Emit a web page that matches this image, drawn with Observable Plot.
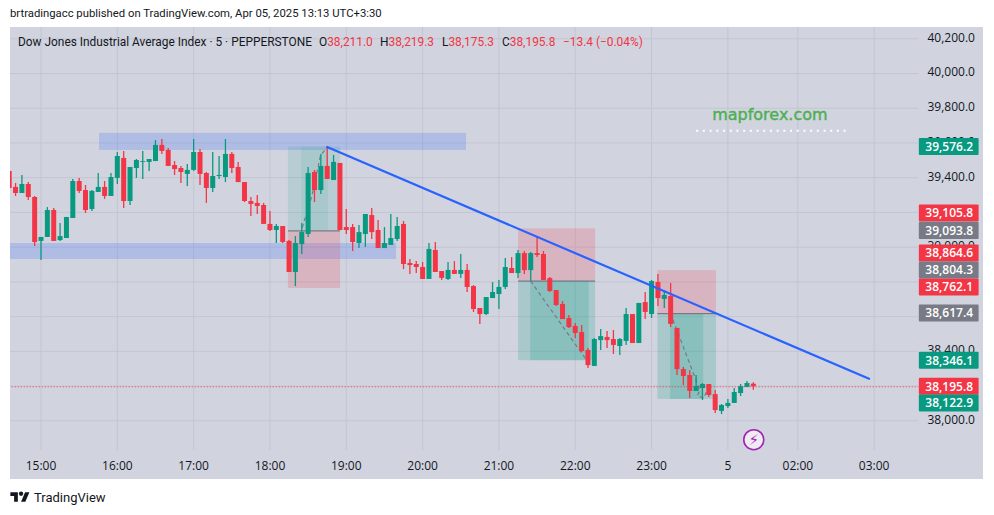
<!DOCTYPE html>
<html>
<head>
<meta charset="utf-8">
<script src="https://cdn.jsdelivr.net/npm/d3@7"></script>
<script src="https://cdn.jsdelivr.net/npm/@observablehq/plot@0.6"></script>
<style>
html,body{margin:0;padding:0;background:#fff;overflow:hidden;width:994px;height:515px}
body{font-family:Roboto,sans-serif;color:#131722;position:relative}
#head{position:absolute;left:10px;top:6px;font-size:11.3px;line-height:16px;white-space:nowrap}
#chart{position:absolute;left:10px;top:27px}
.lg{position:absolute;top:34px;font-size:11.9px;line-height:16px;white-space:nowrap}
.r{color:#f23645}
#foot{position:absolute;left:10px;top:489px;display:flex;align-items:center;gap:4px;font-size:13px;line-height:17px;color:#131722}
</style>
</head>
<body>
<div id="head">brtradingacc published on TradingView.com, Apr 05, 2025 13:13 UTC+3:30</div>
<div id="chart"></div>
<div class="lg" style="left:18px">Dow Jones Industrial Average Index · 5 · PEPPERSTONE</div>
<div class="lg" style="left:319px">O<span class="r">38,211.0</span></div>
<div class="lg" style="left:380px">H<span class="r">38,219.3</span></div>
<div class="lg" style="left:442px">L<span class="r">38,175.3</span></div>
<div class="lg" style="left:502px">C<span class="r">38,195.8</span></div>
<div class="lg r" style="left:563px">−13.4 (−0.04%)</div>
<div id="foot"><svg width="20" height="15" viewBox="0 0 36 28"><path fill="#131722" d="M14 22H7V11H0V4h14v18zM28 22h-8l7.5-18h8L28 22z"/><circle fill="#131722" cx="20" cy="7" r="4"/></svg><span>TradingView</span></div>
<script>
// Candles, 5-minute bars; bar index 0 is 15:00
const open = [39436,39344,39309,39361,39286,39033,39056,39211,39038,39050,39165,39378,39326,39217,39315,39344,39292,39396,39511,39263,39453,39488,39488,39493,39586,39557,39470,39453,39419,39442,39545,39424,39338,39407,39401,39534,39459,39372,39263,39252,39240,39131,39096,39119,39033,38854,39015,39073,39430,39326,39465,39384,39482,39113,39113,39021,39073,39182,39096,38992,39010,39044,39131,38906,38900,38883,38814,38981,38860,38814,38866,38843,38866,38773,38647,38612,38704,38727,38768,38877,38848,38963,38865,38963,38958,38819,38750,38670,38589,38543,38508,38405,38313,38462,38480,38468,38428,38457,38612,38445,38681,38612,38797,38699,38716,38532,38295,38261,38169,38186,38209,38151,38054,38082,38100,38157,38192,38211];
const high = [39436,39367,39413,39372,39292,39056,39228,39223,39136,39171,39390,39396,39355,39326,39424,39378,39424,39545,39551,39459,39505,39551,39505,39614,39620,39568,39493,39465,39476,39620,39563,39430,39545,39522,39620,39545,39488,39372,39286,39298,39252,39205,39131,39119,39038,39061,39136,39459,39442,39534,39580,39528,39482,39217,39131,39125,39188,39223,39154,39113,39188,39171,39148,38929,38917,38912,39021,39027,38860,38912,38917,38958,38900,38779,38647,38710,38796,38808,38935,38940,38981,38975,38969,39056,38975,38825,38750,38687,38606,38560,38549,38416,38474,38526,38514,38520,38474,38647,38612,38676,38739,38808,38843,38750,38791,38532,38307,38290,38261,38215,38209,38175,38094,38123,38186,38209,38226,38219.3];
const low = [39338,39292,39309,39269,39004,38923,39056,39033,39033,39050,39165,39309,39194,39205,39315,39275,39292,39361,39223,39240,39396,39390,39436,39493,39534,39465,39413,39367,39349,39436,39355,39252,39315,39390,39372,39424,39372,39257,39177,39188,39131,39090,39021,39021,38854,38773,38958,39056,39257,39303,39390,39384,39096,39073,38975,38992,38998,39044,38992,38992,39010,39033,38871,38843,38848,38814,38814,38854,38808,38808,38843,38820,38739,38624,38555,38606,38704,38641,38756,38848,38819,38842,38802,38940,38808,38739,38658,38583,38531,38474,38393,38301,38313,38405,38416,38382,38376,38434,38445,38445,38583,38589,38658,38647,38537,38261,38203,38128,38169,38117,38134,38042,38036,38071,38100,38140,38192,38175.3];
const close = [39338,39309,39361,39286,39027,39056,39211,39033,39061,39171,39378,39321,39211,39321,39344,39292,39401,39522,39263,39459,39499,39493,39505,39586,39551,39465,39447,39430,39442,39545,39419,39338,39407,39413,39534,39453,39372,39263,39246,39234,39131,39096,39119,39027,38854,39021,39084,39424,39326,39465,39390,39488,39096,39096,39027,39084,39188,39084,38992,39021,39050,39119,38900,38894,38883,38814,38987,38854,38820,38866,38843,38866,38768,38641,38612,38710,38739,38768,38883,38848,38963,38865,38963,38952,38808,38745,38664,38583,38537,38503,38399,38318,38468,38485,38462,38434,38468,38612,38445,38676,38624,38802,38704,38722,38555,38295,38255,38169,38197,38209,38146,38059,38088,38100,38163,38197,38215,38195.8];
const barIndex = open.map((_, k) => k - 5);

// Axes
const priceGrid = [38000,38200,38400,38600,38800,39000,39200,39400,39600,39800,40000,40200];
const priceLabels = [38000,38400,39000,39400,39600,39800,40000,40200];
const timeTicks = [0,12,24,36,48,60,72,84,96,108,119,131];
const timeLabels = ["15:00","16:00","17:00","18:00","19:00","20:00","21:00","22:00","23:00","5","02:00","03:00"];

// Price tags at the right: value, placed value, kind
const tagValue = [39576.2,39105.8,39093.8,38864.6,38804.3,38762.1,38617.4,38346.1,38195.8,38122.9];
const tagPlaced = [39576.2,39194,39093.8,38963.5,38865.6,38768,38617.4,38346.1,38195.8,38100];
const tagKind = ["g","r","n","r","n","r","n","g","r","g"];

// Support/resistance bands
const bandX1 = [9.2,-5];
const bandX2 = [66.9,55.9];
const bandTop = [39655,39021];
const bandBottom = [39557,38929];

// Position tools: start, end, fill start, fill end, top, entry, bottom
const toolX1 = [38.9,75.1,97];
const toolX2 = [47.1,87.2,106.2];
const fillX1 = [41,77,99];
const fillX2 = [45.2,86.2,104.2];
const toolTop = [39576.2,39105.8,38864.6];
const toolEntry = [39093.8,38804.3,38617.4];
const toolBottom = [38762.1,38346.1,38122.9];
const toolGreenFirst = [true,false,false];

// Dashed paths inside position tools
const pathTool = [0,0,0,0,1,1,1,2,2,2,2,2];
const pathX = [41.1,42.6,43.95,45,77,85.6,86.2,99,103.6,103.2,104.2,104.6];
const pathY = [39115,39297,39528,39576,38804,38359,38346,38617,38175,38145,38130,38165];

// Trend line
const trendX = [45,130.2];
const trendY = [39576.2,38242];

const lastClose = 38195.8;
const lastFromTo = [-5,138];
const wmX = [103.1,127];
const wmPrice = 39670;

const candles = barIndex.map((i, k) => ({i, o: open[k], h: high[k], l: low[k], c: close[k], up: close[k] >= open[k]}));
const UP = "#089981", DOWN = "#f23645", GREY = "#787b86", INK = "#131722";
const bands = bandX1.map((_, k) => ({x1: bandX1[k], x2: bandX2[k], y1: bandTop[k], y2: bandBottom[k]}));
const tools = toolX1.map((_, k) => ({x1: toolX1[k], x2: toolX2[k], fx1: fillX1[k], fx2: fillX2[k], top: toolTop[k], entry: toolEntry[k], bottom: toolBottom[k]}));
const paths = pathX.map((x, k) => ({x, y: pathY[k], t: pathTool[k]}));
const trend = trendX.map((x, k) => ({x, y: trendY[k]}));
const tags = tagValue.map((v, k) => ({v, p: tagPlaced[k], f: tagKind[k] === "g" ? UP : tagKind[k] === "r" ? DOWN : GREY}));
const tagHalf = 49;

const plot = Plot.plot({
  width: 973, height: 452,
  marginLeft: 0, marginRight: 65, marginTop: 0, marginBottom: 29,
  x: {type: "linear", domain: [-4.796, 137.97], axis: null},
  y: {type: "linear", domain: [37829, 40265], axis: null},
  style: {background: "#d1d4df", overflow: "hidden", fontFamily: "'Open Sans',sans-serif", fontSize: "12px", color: INK},
  marks: [
    Plot.ruleX(timeTicks, {stroke: "#c3c5d2", strokeWidth: 1}),
    Plot.ruleY(priceGrid, {x1: -4.796, x2: 137.97, stroke: "#c3c5d2", strokeWidth: 1}),
    Plot.axisY({anchor: "right", ticks: priceLabels, tickSize: 0, tickPadding: 9, dy: -1, label: null, tickFormat: d3.format(",.1f"), fontSize: 12, fill: INK}),
    Plot.axisX({anchor: "bottom", ticks: timeTicks, tickSize: 0, tickPadding: 11, label: null, tickFormat: d => timeLabels[timeTicks.indexOf(d)], fontSize: 12, fill: INK}),
    // bands
    Plot.rect(bands, {x1: "x1", x2: "x2", y1: "y1", y2: "y2", fill: "#2962ff", fillOpacity: 0.2}),
    // position tools
    Plot.rect(tools.filter((d, k) => toolGreenFirst[k]), {x1: "x1", x2: "x2", y1: "top", y2: "entry", fill: UP, fillOpacity: 0.13}),
    Plot.rect(tools.filter((d, k) => toolGreenFirst[k]), {x1: "x1", x2: "x2", y1: "entry", y2: "bottom", fill: DOWN, fillOpacity: 0.2}),
    Plot.rect(tools.filter((d, k) => !toolGreenFirst[k]), {x1: "x1", x2: "x2", y1: "top", y2: "entry", fill: DOWN, fillOpacity: 0.2}),
    Plot.rect(tools.filter((d, k) => !toolGreenFirst[k]), {x1: "x1", x2: "x2", y1: "entry", y2: "bottom", fill: UP, fillOpacity: 0.2}),
    Plot.rect(tools.filter((d, k) => toolGreenFirst[k]), {x1: "fx1", x2: "fx2", y1: "top", y2: "entry", fill: UP, fillOpacity: 0.08}),
    Plot.rect(tools.filter((d, k) => !toolGreenFirst[k]), {x1: "fx1", x2: "fx2", y1: "entry", y2: "bottom", fill: UP, fillOpacity: 0.2}),
    Plot.ruleY(tools, {y: "entry", x1: "x1", x2: "x2", stroke: GREY, strokeWidth: 1.2}),
    // dashed paths
    Plot.line(paths, {x: "x", y: "y", z: "t", stroke: GREY, strokeWidth: 1.2, strokeDasharray: "3 4"}),
    // candles
    Plot.ruleX(candles, {x: "i", y1: "l", y2: "h", stroke: d => d.up ? UP : DOWN, strokeWidth: 1.3}),
    Plot.ruleX(candles, {x: "i", y1: "o", y2: "c", stroke: d => d.up ? UP : DOWN, strokeWidth: 5}),
    // last price
    Plot.ruleY([lastClose], {x1: lastFromTo[0], x2: lastFromTo[1], stroke: DOWN, strokeWidth: 1, strokeDasharray: "1 2"}),
    // trend line
    Plot.line(trend, {x: "x", y: "y", stroke: "#2962ff", strokeWidth: 2.2}),
    // watermark
    Plot.text(["mapforex.com"], {x: 114.6, y: 39764, fill: "#4caf50", stroke: "#4caf50", strokeWidth: 0.4, fontSize: 16, fontFamily: "'DejaVu Sans',sans-serif"}),
    Plot.ruleY([wmPrice], {x1: wmX[0], x2: wmX[1], stroke: "#ffffff", strokeWidth: 2, strokeDasharray: "2 4.7"}),
    // bolt marker
    Plot.dot([0], {x: 112.07, y: 37891, r: 10, fill: "#f1eaf5", stroke: "#9c27b0", strokeWidth: 1.6}),
    Plot.text(["⚡"], {x: 112.07, y: 37891, fill: "#9c27b0", fontSize: 15, fontFamily: "'DejaVu Sans',sans-serif"}),
    // price tags
    Plot.rect(tags, {x1: 138.1, x2: 147.5, y1: d => d.p + tagHalf, y2: d => d.p - tagHalf, fill: "f", rx: 1}),
    Plot.text(tags, {x: 142.8, y: "p", text: d => d3.format(",.1f")(d.v), fill: "#ffffff", fontSize: 12, fontWeight: 600})
  ]
});
document.getElementById("chart").append(plot);
</script>
</body>
</html>
